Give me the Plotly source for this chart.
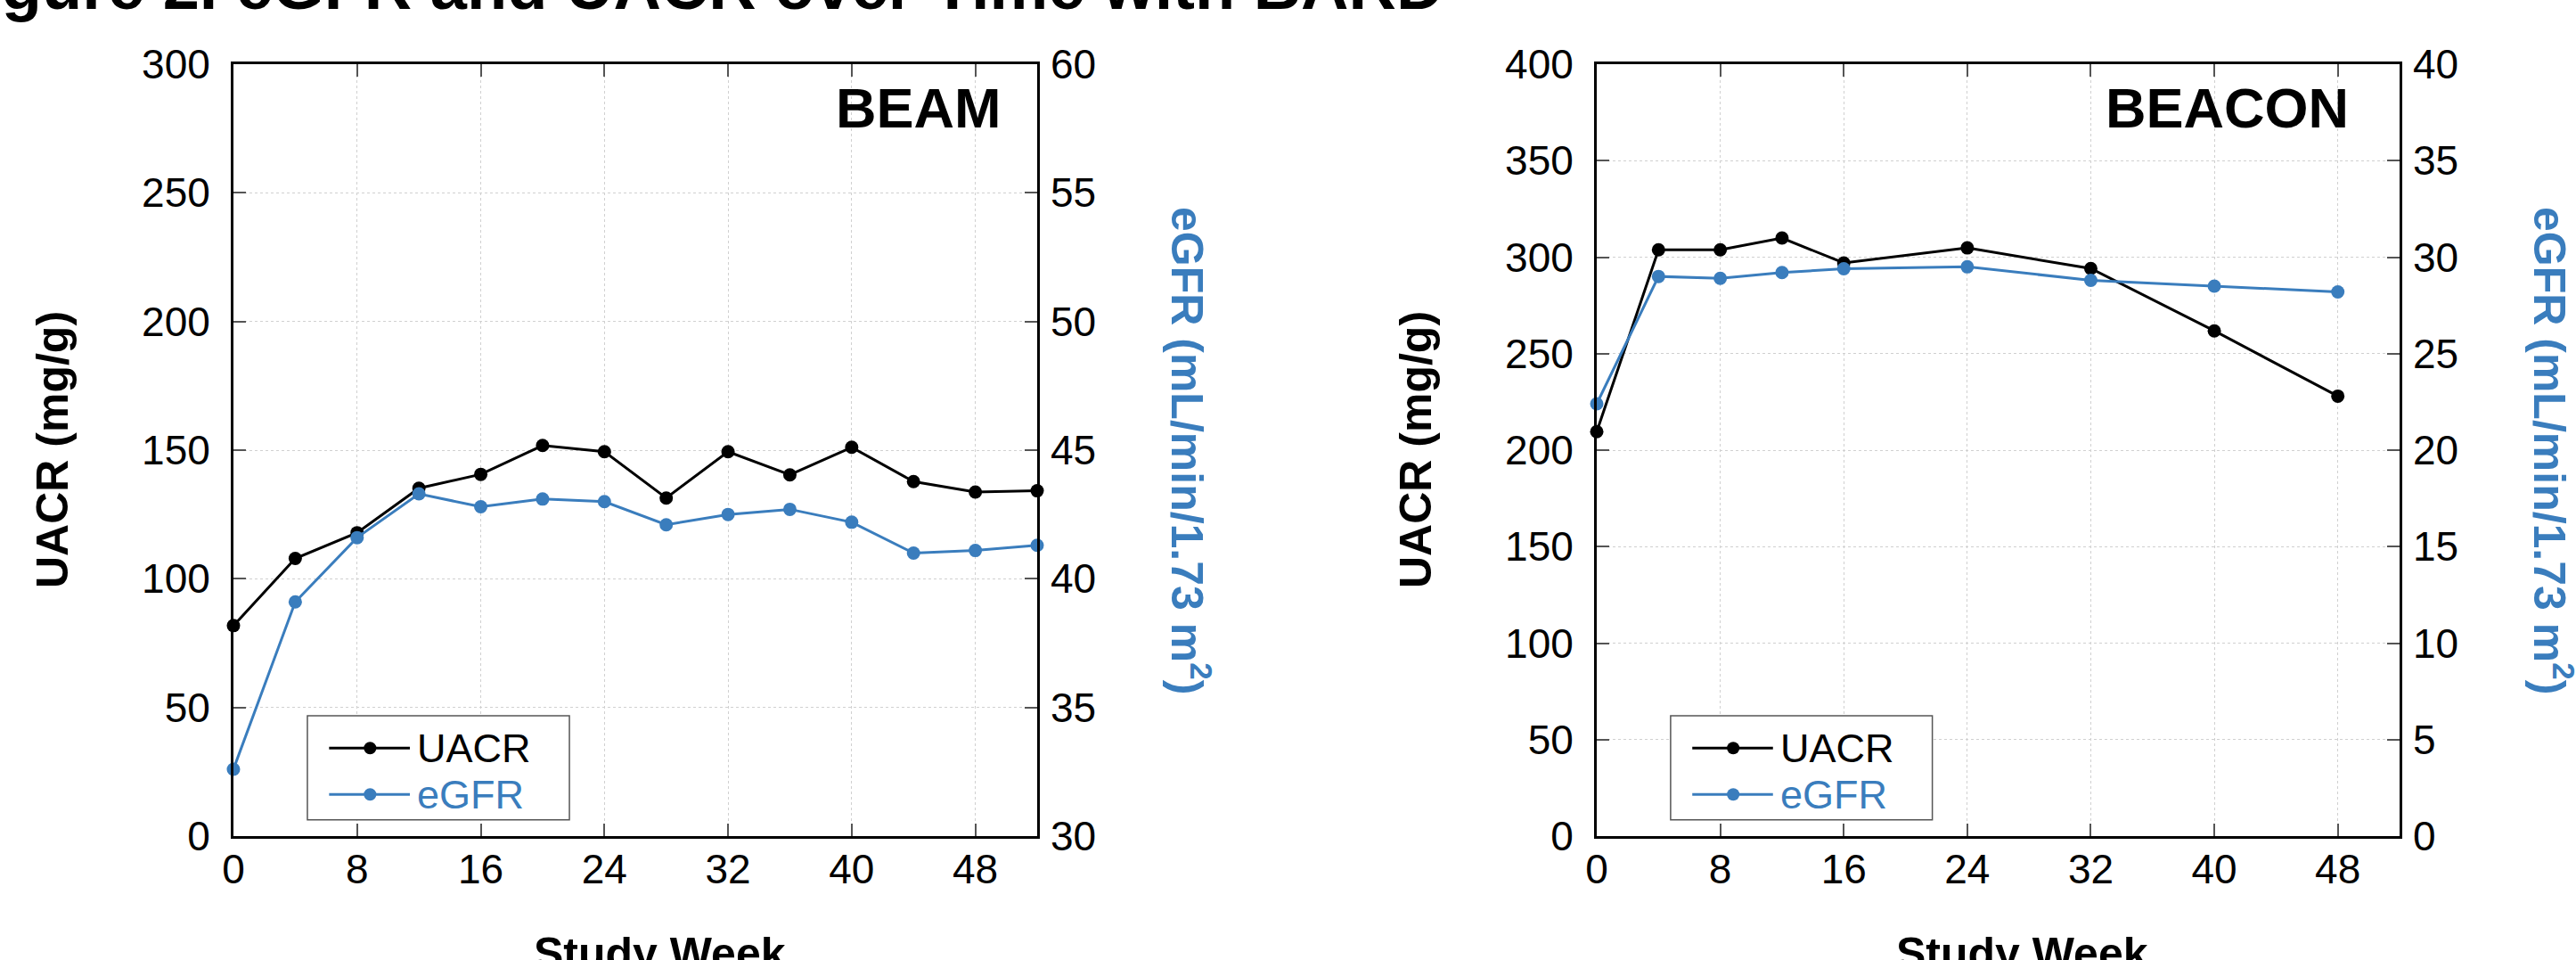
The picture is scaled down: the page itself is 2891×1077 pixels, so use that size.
import plotly.graph_objects as go

# ---- data -------------------------------------------------------------
beam_weeks = [0, 4, 8, 12, 16, 20, 24, 28, 32, 36, 40, 44, 48, 52]
beam_uacr = [81.8, 107.9, 117.9, 135.2, 140.6, 151.8, 149.4, 131.4, 149.4, 140.4, 151.1, 137.8, 133.7, 134.2]
beam_egfr = [32.6, 39.1, 41.6, 43.3, 42.8, 43.1, 43.0, 42.1, 42.5, 42.7, 42.2, 41.0, 41.1, 41.3]

beacon_weeks = [0, 4, 8, 12, 16, 24, 32, 40, 48]
beacon_uacr = [209.6, 303.8, 303.8, 309.9, 297.0, 304.8, 294.1, 261.8, 228.0]
beacon_egfr = [22.4, 29.0, 28.9, 29.2, 29.4, 29.5, 28.8, 28.5, 28.2]

week_ticks = [0, 8, 16, 24, 32, 40, 48]
beam_uacr_ticks = [0, 50, 100, 150, 200, 250, 300]
beam_egfr_ticks = [30, 35, 40, 45, 50, 55, 60]
beacon_uacr_ticks = [0, 50, 100, 150, 200, 250, 300, 350, 400]
beacon_egfr_ticks = [0, 5, 10, 15, 20, 25, 30, 35, 40]

fig_title = "Figure 2. eGFR and UACR over Time with BARD"
x_title = "Study Week"
uacr_title = "UACR (mg/g)"
egfr_title = "eGFR (mL/min/1.73 m<sup>2</sup>)"

# ---- styling -------------------------------------------------------------
W, H = 2891, 1077
BLUE = "#3a7dbd"
BLACK = "#000000"
FONT = "Liberation Sans, Arial, sans-serif"
TICK_SIZE = 46
TITLE_SIZE = 50

# plot-area rectangles in pixels (left, right), shared top/bottom
PLOT_TOP, PLOT_BOTTOM = 72, 938
panels = [
    dict(name="BEAM", weeks=beam_weeks, uacr=beam_uacr, egfr=beam_egfr,
         xa="x", ya="y", yb="y2", px=(262, 1164),
         uacr_ticks=beam_uacr_ticks, egfr_ticks=beam_egfr_ticks, label_x=0.958),
    dict(name="BEACON", weeks=beacon_weeks, uacr=beacon_uacr, egfr=beacon_egfr,
         xa="x2", ya="y3", yb="y4", px=(1792, 2693),
         uacr_ticks=beacon_uacr_ticks, egfr_ticks=beacon_egfr_ticks, label_x=0.939),
]

ydom = [(H - PLOT_BOTTOM) / H, (H - PLOT_TOP) / H]

fig = go.Figure()
layout = dict(
    width=W, height=H,
    margin=dict(l=0, r=0, t=0, b=0, pad=0, autoexpand=False),
    paper_bgcolor="white", plot_bgcolor="white",
    showlegend=False,
    font=dict(family=FONT, color=BLACK, size=TICK_SIZE),
)

annotations = []
shapes = []


def axis_key(ref):
    return ref[0] + "axis" + ref[1:]


for p in panels:
    xa, ya, yb = p["xa"], p["ya"], p["yb"]
    xdom = [p["px"][0] / W, p["px"][1] / W]

    layout[axis_key(xa)] = dict(
        domain=xdom, anchor=ya, range=[0, 52], automargin=False,
        tickmode="array", tickvals=week_ticks, ticktext=[str(v) for v in week_ticks],
        ticks="inside", ticklen=14, tickwidth=1.5, tickcolor="#555555",
        showline=True, linewidth=3, linecolor=BLACK, mirror="ticks",
        showgrid=True, gridcolor="#d0d0d0", gridwidth=1, griddash="dot",
        zeroline=False, ticklabelstandoff=-5,
        tickfont=dict(family=FONT, size=TICK_SIZE, color=BLACK),
    )
    ut = p["uacr_ticks"]
    layout[axis_key(ya)] = dict(
        domain=ydom, anchor=xa, range=[ut[0], ut[-1]], automargin=False,
        tickmode="array", tickvals=ut, ticktext=[str(v) for v in ut],
        ticks="inside", ticklen=14, tickwidth=1.5, tickcolor="#555555",
        showline=True, linewidth=3, linecolor=BLACK, mirror=True,
        showgrid=True, gridcolor="#d0d0d0", gridwidth=1, griddash="dot",
        zeroline=False, ticklabelstandoff=14,
        tickfont=dict(family=FONT, size=TICK_SIZE, color=BLACK),
    )
    et = p["egfr_ticks"]
    layout[axis_key(yb)] = dict(
        overlaying=ya, side="right", anchor=xa, range=[et[0], et[-1]], automargin=False,
        tickmode="array", tickvals=et, ticktext=[str(v) for v in et],
        ticks="inside", ticklen=14, tickwidth=1.5, tickcolor="#555555",
        showline=False, showgrid=False, zeroline=False, ticklabelstandoff=14,
        tickfont=dict(family=FONT, size=TICK_SIZE, color=BLACK),
    )

    fig.add_trace(go.Scatter(
        x=p["weeks"], y=p["egfr"], xaxis=xa, yaxis=yb, name="eGFR",
        mode="lines+markers", cliponaxis=False,
        line=dict(color=BLUE, width=3), marker=dict(color=BLUE, size=15),
    ))
    fig.add_trace(go.Scatter(
        x=p["weeks"], y=p["uacr"], xaxis=xa, yaxis=ya, name="UACR",
        mode="lines+markers", cliponaxis=False,
        line=dict(color=BLACK, width=3), marker=dict(color=BLACK, size=15),
    ))

    xd = xa + " domain"
    yd = ya + " domain"

    # study name in the upper-right corner of the panel
    annotations.append(dict(
        text="<b>%s</b>" % p["name"], xref=xd, yref=yd, x=p["label_x"], y=0.943,
        xanchor="right", yanchor="middle", showarrow=False,
        font=dict(family=FONT, size=63, color=BLACK),
    ))

    # axis titles
    cx = (p["px"][0] + p["px"][1]) / 2 + 27
    annotations.append(dict(
        text="<b>%s</b>" % x_title, xref="paper", yref="paper",
        x=cx / W, y=(H - 1070) / H, xanchor="center", yanchor="middle",
        showarrow=False, font=dict(family=FONT, size=TITLE_SIZE, color=BLACK),
    ))
    annotations.append(dict(
        text="<b>%s</b>" % uacr_title, xref="paper", yref="paper",
        x=(p["px"][0] - 203) / W, y=(H - (PLOT_TOP + PLOT_BOTTOM) / 2) / H,
        xanchor="center", yanchor="middle", textangle=-90,
        showarrow=False, font=dict(family=FONT, size=TITLE_SIZE, color=BLACK),
    ))
    annotations.append(dict(
        text="<b>%s</b>" % egfr_title, xref="paper", yref="paper",
        x=(p["px"][1] + 172) / W, y=(H - (PLOT_TOP + PLOT_BOTTOM) / 2) / H,
        xanchor="center", yanchor="middle", textangle=90,
        showarrow=False, font=dict(family=FONT, size=TITLE_SIZE, color=BLUE),
    ))

    # boxed key in the lower-left corner of the panel
    shapes.append(dict(
        type="rect", xref=xd, yref=yd, x0=0.092, x1=0.418, y0=0.021, y1=0.156,
        line=dict(color="#555555", width=1.5), fillcolor="white", layer="above",
    ))
    for label, color, yk in (("UACR", BLACK, 0.114), ("eGFR", BLUE, 0.054)):
        shapes.append(dict(
            type="line", xref=xd, yref=yd, x0=0.119, x1=0.2195, y0=yk, y1=yk,
            line=dict(color=color, width=3), layer="above",
        ))
        shapes.append(dict(
            type="circle", xref=xd, yref=yd, xsizemode="pixel", ysizemode="pixel",
            xanchor=0.170, yanchor=yk, x0=-7, x1=7, y0=-7, y1=7,
            fillcolor=color, line=dict(color=color, width=0), layer="above",
        ))
        annotations.append(dict(
            text=label, xref=xd, yref=yd, x=0.226, y=yk,
            xanchor="left", yanchor="middle", showarrow=False,
            font=dict(family=FONT, size=45, color=color),
        ))

# figure heading along the top edge
annotations.append(dict(
    text="<b>%s</b>" % fig_title, xref="paper", yref="paper",
    x=-66 / W, y=1 + 15 / H, xanchor="left", yanchor="middle",
    showarrow=False, font=dict(family=FONT, size=74, color=BLACK),
))

layout["annotations"] = annotations
layout["shapes"] = shapes
fig.update_layout(**layout)

fig.write_html("out.html")
